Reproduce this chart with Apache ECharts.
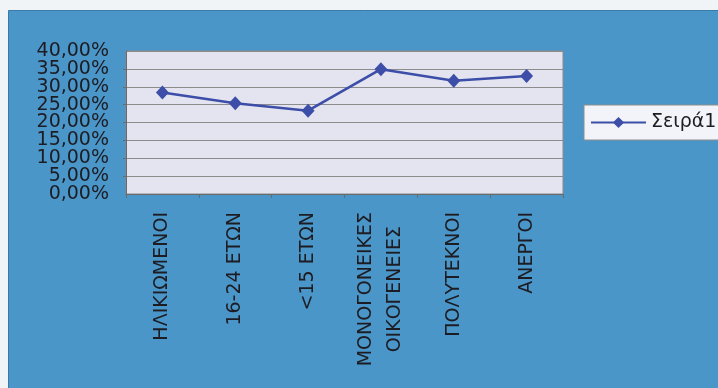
<!DOCTYPE html>
<html>
<head>
<meta charset="utf-8">
<script src="https://cdn.jsdelivr.net/npm/echarts@6/dist/echarts.min.js"></script>
<style>
  html, body { margin: 0; padding: 0; background: #f1f4f7; }
  #chart { width: 718px; height: 388px; }
</style>
</head>
<body>
<div id="chart"></div>
<script>
// categories (x axis, rotated labels)
const categories = ['ΗΛΙΚΙΩΜΕΝΟΙ', '16-24 ΕΤΩΝ', '<15 ΕΤΩΝ', 'ΜΟΝΟΓΟΝΕΙΚΕΣ\nΟΙΚΟΓΕΝΕΙΕΣ', 'ΠΟΛΥΤΕΚΝΟΙ', 'ΑΝΕΡΓΟΙ'];
// series values (fractions)
const seira1 = [0.284, 0.254, 0.233, 0.349, 0.317, 0.330];
const seriesName = 'Σειρά1';
// y axis range
const yMin = 0;
const yMax = 0.4;
const yStep = 0.05;

const chart = echarts.init(document.getElementById('chart'));
const font = 'DejaVu Sans';
const textColor = '#1c1c22';
const pct = v => (v * 100).toFixed(2).replace('.', ',') + '%';
const yLabel = { margin: 17, fontFamily: font, fontSize: 19, color: textColor };

const option = {
  animation: false,
  backgroundColor: 'transparent',
  graphic: [
    {
      type: 'rect',
      z: -10,
      shape: { x: 8.5, y: 10.5, width: 720, height: 390 },
      style: { fill: '#4b96c8', stroke: '#3a7aa8', lineWidth: 1 }
    }
  ],
  grid: {
    left: 126,
    top: 51,
    right: 155,
    bottom: 194,
    show: true,
    backgroundColor: '#e3e4ef',
    borderColor: '#8a8a8a',
    borderWidth: 1
  },
  legend: {
    left: 584,
    top: 105,
    padding: [8, 40, 8, 6],
    backgroundColor: '#f3f4f9',
    borderColor: '#8e8e8e',
    borderWidth: 1,
    borderRadius: 0,
    itemWidth: 55,
    itemHeight: 14,
    itemGap: 5,
    textStyle: { fontFamily: font, fontSize: 19, color: textColor },
    data: [seriesName]
  },
  xAxis: {
    type: 'category',
    data: categories,
    boundaryGap: true,
    axisLine: { show: true, lineStyle: { color: '#6a6a6a', width: 1 } },
    axisTick: { show: true, length: 4, lineStyle: { color: '#6a6a6a' } },
    axisLabel: {
      rotate: 90,
      margin: 18,
      interval: 0,
      formatter: v => v.split('\n').map(s => '{c|' + s + '}').join('\n'),
      rich: {
        c: { fontFamily: font, fontSize: 19, lineHeight: 29, color: textColor, align: 'center' }
      }
    }
  },
  yAxis: [
    {
      type: 'value',
      min: yMin,
      max: yMax,
      interval: yStep,
      axisLine: { show: true, lineStyle: { color: '#6a6a6a', width: 1 } },
      axisTick: { show: true, length: 3, lineStyle: { color: '#6a6a6a' } },
      splitLine: { show: true, lineStyle: { color: '#8c8c8c', width: 1 } },
      axisLabel: Object.assign({}, yLabel, {
        showMinLabel: false,
        showMaxLabel: false,
        formatter: pct
      })
    },
    {
      // second copy only for the end labels, which the first axis drops
      type: 'value',
      position: 'left',
      min: yMin,
      max: yMax,
      interval: yStep,
      axisLine: { show: false },
      axisTick: { show: false },
      splitLine: { show: false },
      axisLabel: Object.assign({}, yLabel, {
        showMinLabel: true,
        showMaxLabel: true,
        formatter: v => (v === yMin || v === yMax) ? pct(v) : ''
      })
    }
  ],
  series: [
    {
      name: seriesName,
      type: 'line',
      yAxisIndex: 0,
      data: seira1,
      symbol: 'diamond',
      symbolSize: [13, 14],
      lineStyle: { color: '#3c4ea8', width: 2.6 },
      itemStyle: { color: '#3c4ea8' }
    }
  ]
};

chart.setOption(option);
</script>
</body>
</html>
